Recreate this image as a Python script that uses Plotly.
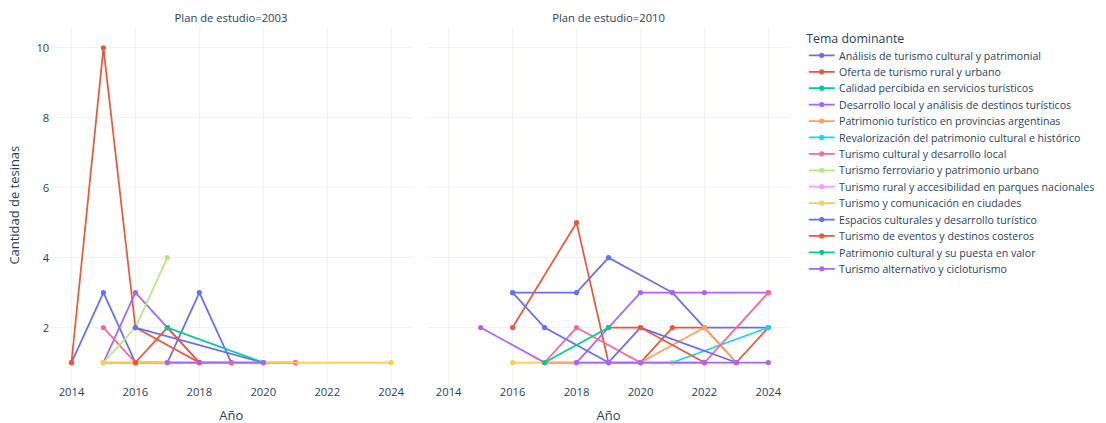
import pandas as pd
import plotly.express as px

temas = [
    "Análisis de turismo cultural y patrimonial",
    "Oferta de turismo rural y urbano",
    "Calidad percibida en servicios turísticos",
    "Desarrollo local y análisis de destinos turísticos",
    "Patrimonio turístico en provincias argentinas",
    "Revalorización del patrimonio cultural e histórico",
    "Turismo cultural y desarrollo local",
    "Turismo ferroviario y patrimonio urbano",
    "Turismo rural y accesibilidad en parques nacionales",
    "Turismo y comunicación en ciudades",
    "Espacios culturales y desarrollo turístico",
    "Turismo de eventos y destinos costeros",
    "Patrimonio cultural y su puesta en valor",
    "Turismo alternativo y cicloturismo",
]

# Plan 2003: (años, cantidades) por tema
anios_2003 = [
    [2014, 2015, 2016, 2017, 2018, 2019],
    [2014, 2015, 2016, 2018, 2019],
    [2015, 2016],
    [2015, 2016, 2017, 2018],
    [2016, 2017, 2020, 2021],
    [],
    [2015, 2016, 2021],
    [2015, 2016, 2017],
    [],
    [2015, 2024],
    [2016, 2020],
    [2016, 2017, 2018],
    [2017, 2020],
    [2017, 2020],
]
cant_2003 = [
    [1, 3, 1, 1, 3, 1],
    [1, 10, 2, 1, 1],
    [1, 1],
    [1, 3, 2, 1],
    [1, 1, 1, 1],
    [],
    [2, 1, 1],
    [1, 2, 4],
    [],
    [1, 1],
    [2, 1],
    [1, 2, 1],
    [2, 1],
    [1, 1],
]

# Plan 2010
anios_2010 = [
    [2016, 2018, 2019, 2021, 2022, 2024],
    [2016, 2018, 2019, 2020, 2021, 2022, 2023, 2024],
    [],
    [2015, 2017, 2018, 2019, 2020, 2021, 2022, 2024],
    [2017, 2018, 2020, 2022, 2023],
    [2021, 2024],
    [2017, 2018, 2020, 2022, 2024],
    [2021],
    [2019],
    [2016, 2017],
    [2016, 2017, 2019, 2020, 2023],
    [2019, 2020, 2022],
    [2017, 2019],
    [2018, 2019, 2020, 2022, 2023, 2024],
]
cant_2010 = [
    [3, 3, 4, 3, 2, 2],
    [2, 5, 1, 1, 2, 2, 1, 2],
    [],
    [2, 1, 1, 2, 3, 3, 3, 3],
    [1, 1, 1, 2, 1],
    [1, 2],
    [1, 2, 1, 1, 3],
    [1],
    [1],
    [1, 1],
    [3, 2, 1, 2, 1],
    [2, 2, 1],
    [1, 2],
    [1, 1, 1, 1, 1, 1],
]

planes = ["2003", "2010"]

rows = []
for i, tema in enumerate(temas):
    for plan, anios, cant in ((planes[0], anios_2003, cant_2003), (planes[1], anios_2010, cant_2010)):
        for a, c in zip(anios[i], cant[i]):
            rows.append({"Año": a, "Cantidad de tesinas": c, "Tema dominante": tema, "Plan de estudio": plan})
df = pd.DataFrame(rows)

fig = px.line(
    df, x="Año", y="Cantidad de tesinas", color="Tema dominante",
    facet_col="Plan de estudio", markers=True, template="plotly_white",
    category_orders={"Tema dominante": temas, "Plan de estudio": planes},
)
fig.update_xaxes(dtick=2, title_font_size=15)
fig.update_yaxes(title_font_size=15)
fig.update_layout(
    width=1280, height=490, autosize=False,
    margin=dict(l=58, r=366, t=31, b=46, autoexpand=False),
    font=dict(family="Open Sans, verdana, arial, sans-serif", size=13),
    legend=dict(font_size=12.3, title_font_size=14.3),
)

# the figure is laid out at 1280x490 and shown scaled to the 1106x423 window
post = """
document.documentElement.style.overflow = 'hidden';
document.body.style.margin = '0';
document.body.style.overflow = 'hidden';
var gd = document.getElementById('{plot_id}');
gd.style.transformOrigin = '0 0';
gd.style.transform = 'scale(0.864)';
"""
fig.write_html("out.html", post_script=post, config={"displayModeBar": False})
